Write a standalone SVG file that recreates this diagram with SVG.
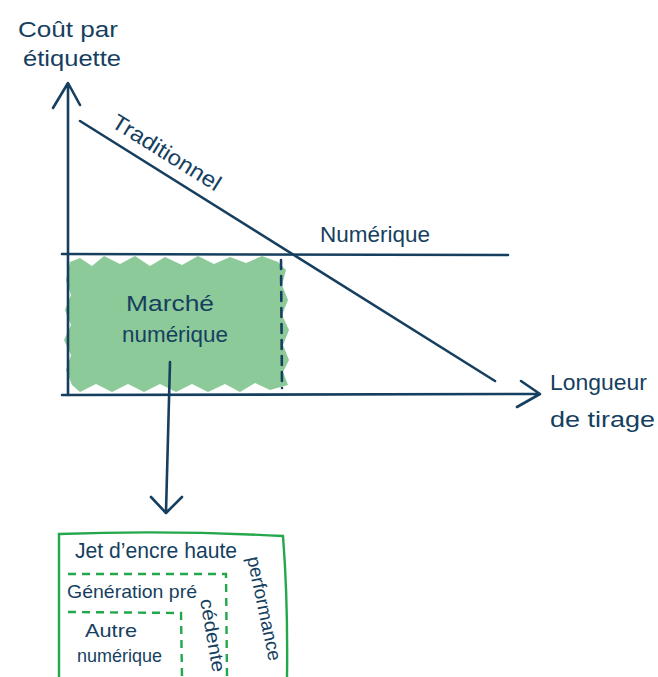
<svg xmlns="http://www.w3.org/2000/svg" width="658" height="677" viewBox="0 0 658 677">
<style>
.ink{fill:none;stroke:#163f5f;stroke-width:2.6;stroke-linecap:round;stroke-linejoin:round}
.t{font-family:"Liberation Sans","Noto Sans",sans-serif;fill:#163f5f;font-size:22px}
.s{font-size:19px}
.g{fill:none;stroke:#22a84b;stroke-width:2.4;stroke-linecap:round}
.gd{fill:none;stroke:#22a84b;stroke-width:2.4;stroke-dasharray:8 6}
</style>
<rect width="658" height="677" fill="#fff"/>
<g id="market-area">
<path d="M70 262 L80 258 L92 266 L104 256 L120 264 L135 256 L150 266 L165 257 L182 265 L198 256 L214 264 L230 257 L246 263 L262 256 L278 262 L286 270 L282 285 L288 300 L282 315 L289 330 L283 345 L289 360 L283 372 L288 385 L270 390 L255 383 L240 392 L225 384 L208 392 L192 384 L176 392 L160 384 L144 392 L128 384 L112 392 L96 384 L80 392 L72 385 L66 370 L71 355 L64 340 L71 325 L65 310 L71 295 L66 280 Z" fill="#8dca99"/>
<text class="t" x="170" y="311" text-anchor="middle" textLength="88" lengthAdjust="spacingAndGlyphs">Marché</text>
<text class="t" x="175" y="342" text-anchor="middle" textLength="106" lengthAdjust="spacingAndGlyphs">numérique</text>
</g>
<g id="axes">
<path class="ink" d="M68 395 L68 84 M53 108 L68 83 L80 105"/>
<path class="ink" d="M62 395 L538 394 M521 381 L540 394 L517 407"/>
<text class="t" x="18" y="37" textLength="100" lengthAdjust="spacingAndGlyphs">Coût par</text>
<text class="t" x="23" y="66" textLength="98" lengthAdjust="spacingAndGlyphs">étiquette</text>
<text class="t" x="550" y="390" textLength="97" lengthAdjust="spacingAndGlyphs">Longueur</text>
<text class="t" x="550" y="427" textLength="105" lengthAdjust="spacingAndGlyphs">de tirage</text>
</g>
<g id="traditional">
<path class="ink" d="M80 121 L495 381"/>
<text class="t" transform="translate(110,126) rotate(32)" textLength="124" lengthAdjust="spacingAndGlyphs">Traditionnel</text>
</g>
<g id="digital">
<path class="ink" d="M62 254 L508 255"/>
<text class="t" x="320" y="242" textLength="110" lengthAdjust="spacingAndGlyphs">Numérique</text>
<path class="ink" d="M281 260 L282 388" stroke-dasharray="9 7"/>
</g>
<g id="connectors">
<path class="ink" d="M170 362 L166 512 M151 497 L166 513 L182 497"/>
</g>
<g id="breakdown">
<path class="g" d="M59 677 L59 534 Q170 530 283 536 Q288 600 287 677"/>
<text class="t" x="75" y="558" textLength="162" lengthAdjust="spacingAndGlyphs">Jet d’encre haute</text>
<text class="t s" transform="translate(247,558) rotate(78)" textLength="106" lengthAdjust="spacingAndGlyphs">performance</text>
<path class="gd" d="M68 574 L226 574 L227 677"/>
<text class="t s" x="67" y="598" textLength="130" lengthAdjust="spacingAndGlyphs">Génération pré</text>
<text class="t s" transform="translate(200,600) rotate(80)" textLength="74" lengthAdjust="spacingAndGlyphs">cédente</text>
<path class="gd" d="M68 612 L181 613 L182 677"/>
<text class="t s" x="85" y="637" textLength="52" lengthAdjust="spacingAndGlyphs">Autre</text>
<text class="t s" x="77" y="662" textLength="85" lengthAdjust="spacingAndGlyphs">numérique</text>
</g>
</svg>
